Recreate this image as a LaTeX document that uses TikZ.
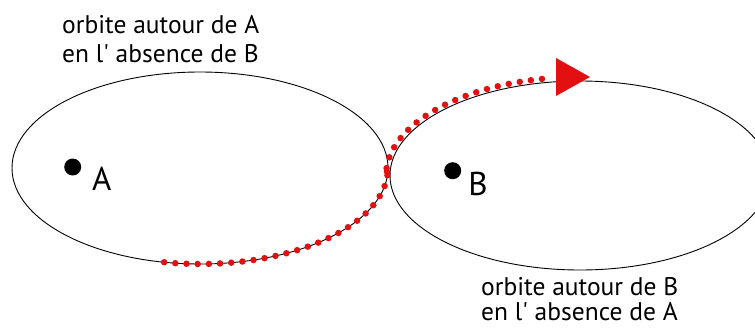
\documentclass[tikz,border=0pt]{standalone}
\usepackage{fontspec}
\newfontfamily\labfont{PT Sans}
\definecolor{orbred}{RGB}{226,16,16}
\begin{document}
\begin{tikzpicture}[x=1pt,y=-1pt,
  orbit/.style={line width=0.9pt,black},
  traj/.style={orbred,line width=6.5pt,line cap=round,dash pattern=on 0pt off 11.2pt},
  lab/.style={font=\labfont\fontsize{25.5}{29}\selectfont,align=left,inner sep=0pt,anchor=north west},
  body/.style={circle,fill=black,minimum size=17pt,inner sep=0pt},
  bodylab/.style={font=\labfont\fontsize{33}{33}\selectfont,inner sep=0pt}]
\useasboundingbox (0,0) rectangle (755,327);
\clip (0,0) rectangle (755,327);
\draw[orbit] (200,168) ellipse [x radius=188, y radius=96];
\draw[orbit] (580,175.5) ellipse [x radius=190, y radius=94.5];
\draw[traj] (200,168) ++(101:188 and 96) arc[start angle=101, end angle=0, x radius=188, y radius=96]
  -- (386,175.5) arc[start angle=180, end angle=262, x radius=194, y radius=98.5];
\fill[orbred] (556,58) -- (590,77) -- (556,96) -- cycle;
\node[body] (A) at (72.7,167) {};
\node[bodylab] (labA) at (101.7,178.4) {A};
\node[body] (B) at (452.7,170.7) {};
\node[bodylab] (labB) at (478,184.3) {B};
\node[lab] (tA) at (62,15) {orbite autour de A\\en l' absence de B};
\node[lab, font=\labfont\fontsize{25.5}{25}\selectfont] (tB) at (481,277) {orbite autour de B\\en l' absence de A};
\end{tikzpicture}
\end{document}
